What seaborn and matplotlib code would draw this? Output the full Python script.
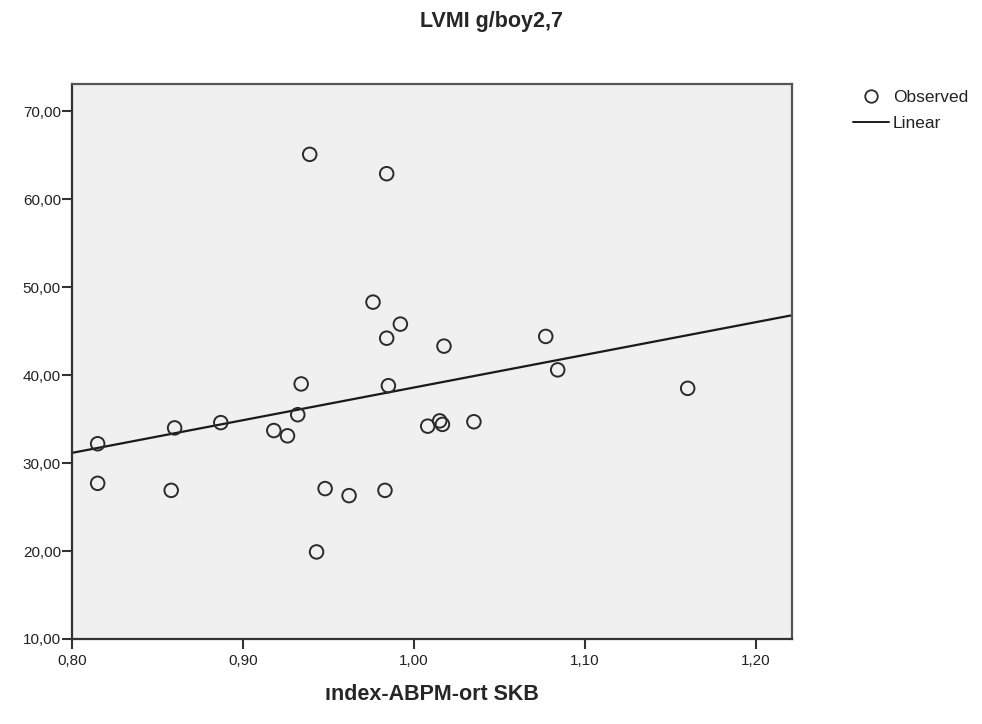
import numpy as np
import pandas as pd
import matplotlib
matplotlib.use("Agg")
import matplotlib.pyplot as plt
import seaborn as sns
from matplotlib.lines import Line2D
from matplotlib.ticker import FuncFormatter

# Data
index_abpm = [0.815, 0.815, 0.860, 0.858, 0.887, 0.918, 0.926, 0.932, 0.934,
              0.939, 0.943, 0.948, 0.962, 0.976, 0.983, 0.984, 0.984, 0.985,
              0.992, 1.008, 1.015, 1.0166, 1.0175, 1.035, 1.077, 1.084, 1.160]
lvmi = [32.2, 27.7, 34.0, 26.9, 34.6, 33.7, 33.1, 35.5, 39.0,
        65.1, 19.9, 27.1, 26.3, 48.3, 26.9, 62.9, 44.2, 38.8,
        45.8, 34.2, 34.8, 34.4, 43.3, 34.7, 44.4, 40.6, 38.5]
x_ticks = [0.80, 0.90, 1.00, 1.10, 1.20]
y_ticks = [10, 20, 30, 40, 50, 60, 70]

title = "LVMI g/boy2,7"
x_label = "ındex-ABPM-ort SKB"

df = pd.DataFrame({"x": index_abpm, "y": lvmi})

sns.set_style("white")
plt.rcParams["font.family"] = ["Liberation Sans", "DejaVu Sans"]

fig = plt.figure(figsize=(9.82, 7.24), dpi=100)
ax = fig.add_axes([72 / 982, 1 - 639 / 724, (792 - 72) / 982, (639 - 84) / 724])
ax.set_facecolor("#f0f0f0")

ax.set_xlim(0.80, 1.221)
ax.set_ylim(10, 73.1)

sns.scatterplot(data=df, x="x", y="y", ax=ax, marker="o", s=95,
                facecolors="none", edgecolor="#2b2b2b", linewidth=1.4,
                zorder=3, legend=False)
sns.regplot(data=df, x="x", y="y", ax=ax, scatter=False, ci=None,
            truncate=False, line_kws={"color": "#1a1a1a", "lw": 1.6})
ax.set_xlim(0.80, 1.221)
ax.set_ylim(10, 73.1)

ax.set_xticks(x_ticks)
ax.set_yticks(y_ticks)
ax.xaxis.set_major_formatter(FuncFormatter(lambda v, p: f"{v:.2f}".replace(".", ",")))
ax.yaxis.set_major_formatter(FuncFormatter(lambda v, p: f"{v:.2f}".replace(".", ",")))
ax.tick_params(axis="both", which="major", direction="out", length=7.5, width=1.5,
               color="#333333", labelsize=11, labelcolor="#222222",
               bottom=True, left=True, top=False, right=False)
ax.tick_params(axis="y", pad=0.5)
ax.tick_params(axis="x", pad=3)

for side, sp in ax.spines.items():
    sp.set_visible(True)
    sp.set_linewidth(1.6)
    sp.set_color("#333333" if side in ("left", "bottom") else "#555555")

ax.set_xlabel(x_label, fontsize=15.5, fontweight="bold", va="top")
ax.xaxis.set_label_coords(0.5, (639 - 684) / 555)
ax.set_ylabel("")
fig.text(0.5, 1 - 22 / 724, title, ha="center", va="center",
         fontsize=15.5, fontweight="bold")

handles = [
    Line2D([], [], marker="o", linestyle="none", markerfacecolor="none",
           markeredgecolor="#2b2b2b", markersize=9, markeredgewidth=1.3),
    Line2D([], [], color="#1a1a1a", lw=1.4),
]
fig.legend(handles, ["Observed", "Linear"], loc="upper left",
           bbox_to_anchor=(853 / 982, 1 - 90 / 724), frameon=False,
           fontsize=12.5, handlelength=2.1, handletextpad=0.2,
           labelspacing=0.6, borderaxespad=0, borderpad=0,
           labelcolor="#222222")

fig.savefig("out.png", dpi=100)
